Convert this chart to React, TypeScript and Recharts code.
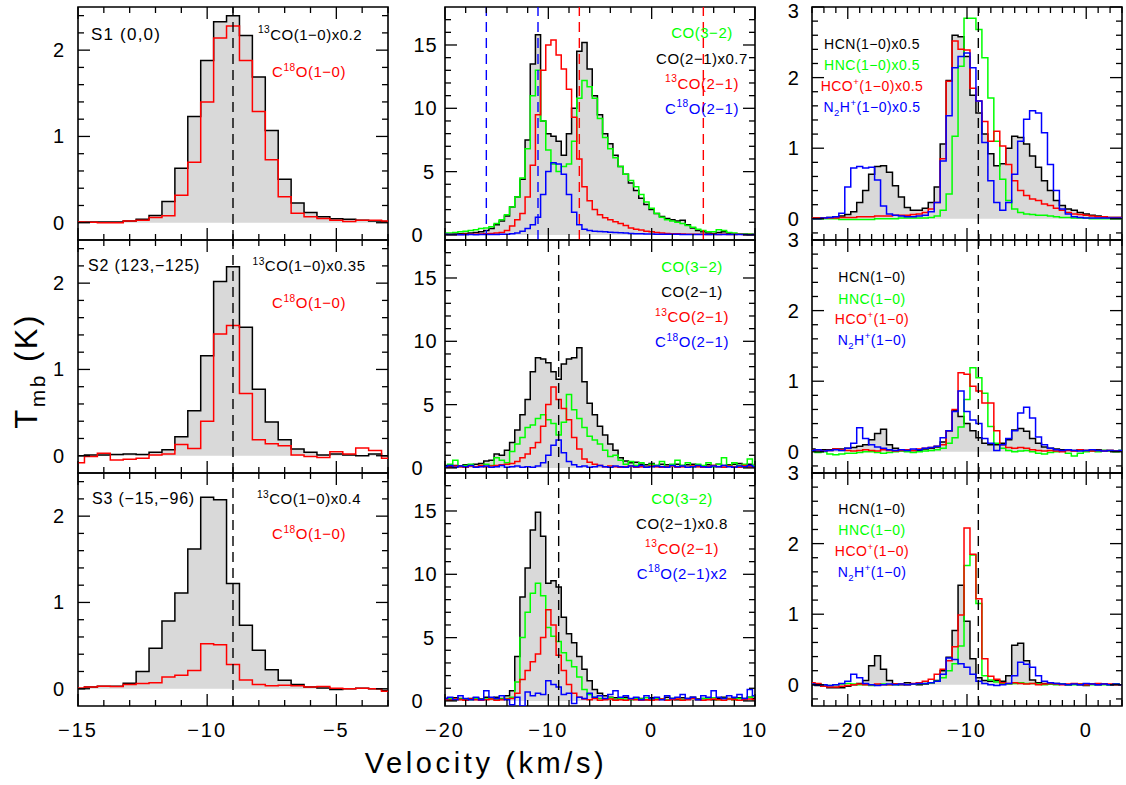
import React from 'react';
import { ComposedChart, Area, Line, XAxis, YAxis, ReferenceLine, ReferenceArea } from 'recharts';

const FONT = '"Liberation Sans", Arial, Helvetica, sans-serif';
const GREY = '#d9d9d9';
const BLACK = '#000000';
const RED = '#ff0000';
const GREEN = '#00ff00';
const BLUE = '#0000ff';

// plot box size and padding around it (px)
const PW = 310;
const PH = 233;
const LP = 50;
const RP = 24;
const TP = 12;
const BP = 38;

// ---------- channel velocities (km/s) ----------
const VEL_C1 = [-15, -14.5, -14, -13.5, -13, -12.5, -12, -11.5, -11, -10.5, -10, -9.5, -9, -8.5, -8, -7.5, -7, -6.5, -6, -5.5, -5, -4.5, -4, -3.5, -3];
const VEL_C2 = [-20, -19.5, -19, -18.5, -18, -17.5, -17, -16.5, -16, -15.5, -15, -14.5, -14, -13.5, -13, -12.5, -12, -11.5, -11, -10.5,
  -10, -9.5, -9, -8.5, -8, -7.5, -7, -6.5, -6, -5.5, -5, -4.5, -4, -3.5, -3, -2.5, -2, -1.5, -1, -0.5,
  0, 0.5, 1, 1.5, 2, 2.5, 3, 3.5, 4, 4.5, 5, 5.5, 6, 6.5, 7, 7.5, 8, 8.5, 9, 9.5, 10];
const VEL_C3 = [-23, -22.5, -22, -21.5, -21, -20.5, -20, -19.5, -19, -18.5, -18, -17.5, -17, -16.5, -16, -15.5, -15, -14.5, -14, -13.5,
  -13, -12.5, -12, -11.5, -11, -10.5, -10, -9.5, -9, -8.5, -8, -7.5, -7, -6.5, -6, -5.5, -5, -4.5, -4, -3.5,
  -3, -2.5, -2, -1.5, -1, -0.5, 0, 0.5, 1, 1.5, 2, 2.5, 3];

// ---------- column 1: 13CO(1-0) / C18O(1-0) ----------
const R1_13CO10 = [0.01, 0.01, 0.01, 0.01, 0.02, 0.04, 0.085, 0.245, 0.63, 1.23,
  1.88, 2.33, 2.40, 2.17, 1.69, 1.07, 0.505, 0.23, 0.12, 0.07,
  0.047, 0.04, 0.03, 0.02, 0.015];
const R1_C18O10 = [0.01, 0.005, 0, 0, 0.02, 0.03, 0.06, 0.08, 0.32, 0.70,
  1.40, 2.14, 2.28, 1.88, 1.29, 0.73, 0.30, 0.11, 0.07, 0.05,
  0.03, 0.015, 0.03, 0.03, 0.02];
const R2_13CO10 = [0, 0.01, 0.01, 0.015, 0.02, 0.015, 0.04, 0.07, 0.22, 0.52,
  1.16, 2.02, 2.19, 1.49, 0.77, 0.39, 0.185, 0.077, 0.04, 0.01,
  0.02, 0.01, 0, 0.02, 0];
const R2_C18O10 = [-0.08, -0.01, 0.03, -0.05, -0.04, -0.03, 0.01, 0.02, 0.13, 0.085,
  0.40, 1.41, 1.51, 0.72, 0.185, 0.14, 0.115, 0.01, -0.01, -0.02,
  0.046, 0.02, 0.09, 0.06, -0.03];
const R3_13CO10 = [0, 0.02, 0.03, 0.03, 0.065, 0.20, 0.47, 0.785, 1.11, 1.62,
  2.22, 2.19, 1.22, 0.735, 0.445, 0.22, 0.097, 0.05, 0.02, 0.01,
  -0.01, 0, 0.005, 0, -0.02];
const R3_C18O10 = [0.01, 0.02, 0.03, 0.025, 0.05, 0.06, 0.07, 0.135, 0.155, 0.21,
  0.52, 0.51, 0.28, 0.10, 0.05, 0.035, 0.04, 0.035, 0.02, 0.027,
  0.005, 0, 0.005, 0, -0.03];

// ---------- column 2: CO(3-2), CO(2-1), 13CO(2-1), C18O(2-1) ----------
const R1_CO32 = [0.15, 0.15, 0.2, 0.25, 0.3, 0.35, 0.4, 0.5, 0.55, 0.65,
  0.9, 1.2, 1.6, 2.2, 3.0, 4.5, 6.8, 11.0, 13.0, 9.0,
  6.7, 5.6, 5.0, 5.4, 5.6, 7.4, 10.8, 12.2, 11.7, 10.8,
  9.2, 7.7, 6.8, 6.1, 5.4, 4.8, 4.3, 3.8, 3.2, 2.6,
  2.1, 1.7, 1.4, 1.2, 1.1, 1.0, 0.9, 0.75, 0.6, 0.45,
  0.35, 0.25, 0.25, 0.4, 0.35, 0.2, 0.15, 0.1, 0.1, 0.08,
  0.05];
const R1_CO21 = [0.05, 0.05, 0.08, 0.1, 0.12, 0.15, 0.2, 0.25, 0.35, 0.5,
  0.8, 1.1, 1.5, 2.2, 3.0, 4.4, 7.5, 13.5, 15.8, 9.0,
  8.0, 7.8, 7.4, 6.3, 8.0, 10.0, 14.5, 15.2, 13.1, 11.0,
  9.5, 8.0, 7.2, 6.3, 5.4, 4.8, 4.1, 3.5, 2.9, 2.4,
  2.0, 1.7, 1.45, 1.3, 1.2, 1.1, 1.15, 0.8, 0.55, 0.35,
  0.25, 0.15, 0.12, 0.2, 0.25, 0.12, 0.08, 0.05, 0.05, 0.04,
  0.04];
const R1_13CO21 = [0.03, 0.03, 0.04, 0.03, 0.05, 0.05, 0.05, 0.08, 0.1, 0.12,
  0.15, 0.2, 0.35, 0.7, 1.2, 1.7, 3.0, 5.5, 9.5, 13.0,
  15.0, 15.4, 14.2, 13.1, 11.5, 9.3, 6.0, 3.8, 2.7, 2.0,
  1.6, 1.35, 1.2, 1.05, 0.9, 0.75, 0.55, 0.45, 0.38, 0.3,
  0.25, 0.2, 0.15, 0.12, 0.1, 0.1, 0.08, 0.06, 0.05, 0.05,
  0.05, 0.04, 0.05, 0.04, 0.05, 0.04, 0.04, 0.05, 0.04, 0.04,
  0.04];
const R1_C18O21 = [0.05, 0.04, 0.03, 0.02, 0.02, 0.03, 0.02, 0.03, 0.03, 0.04,
  0.04, 0.05, 0.06, 0.1, 0.15, 0.3, 0.5, 0.8, 1.4, 3.2,
  5.0, 5.7, 5.6, 4.8, 3.2, 1.8, 0.8, 0.45, 0.35, 0.3,
  0.28, 0.25, 0.22, 0.2, 0.18, 0.15, 0.12, 0.1, 0.1, 0.08,
  0.07, 0.06, 0.06, 0.05, 0.05, 0.05, 0.04, 0.04, 0.04, 0.03,
  0.03, 0.03, 0.03, 0.04, 0.03, 0.03, 0.03, 0.03, 0.03, 0.02,
  0.03];

const R2_CO32 = [0.1, 0.3, 0.6, 0.1, 0.2, 0.3, 0.1, 0.2, 0.3, 0.2,
  0.8, 0.6, 0.4, 1.3, 1.9, 2.4, 3.2, 3.4, 3.9, 4.2,
  3.8, 3.5, 2.6, 3.6, 5.8, 4.6, 3.9, 3.2, 2.5, 2.2,
  1.9, 1.4, 0.9, 1.0, 0.6, 0.3, 0.5, 0.2, 0.4, 0.1,
  0.3, 0.2, 0.5, 0.1, 0.3, 0.6, 0.2, 0.4, 0.1, 0.3,
  0.2, 0.4, 0.1, 0.3, 0.8, 0.2, 0.4, 0.2, 0.3, 0.7,
  0.2];
const R2_CO21 = [0.2, 0.1, 0.2, 0.15, 0.25, 0.2, 0.3, 0.35, 0.55, 0.6,
  1.1, 1.0, 1.4, 2.0, 3.0, 4.2, 5.4, 7.6, 8.7, 8.6,
  8.3, 7.6, 7.0, 8.2, 8.6, 8.7, 9.5, 6.8, 5.1, 4.2,
  3.3, 2.6, 1.9, 1.4, 0.8, 0.55, 0.4, 0.45, 0.3, 0.25,
  0.35, 0.2, 0.3, 0.25, 0.2, 0.3, 0.2, 0.25, 0.3, 0.2,
  0.15, 0.25, 0.2, 0.3, 0.2, 0.25, 0.3, 0.35, 0.25, 0.3,
  0.2];
const R2_13CO21 = [0.1, 0.05, 0.15, 0.1, 0.05, 0.15, 0.1, 0.2, 0.1, 0.15,
  0.2, 0.25, 0.3, 0.35, 0.5, 0.8, 1.1, 1.6, 2.0, 3.3,
  5.0, 6.4, 5.4, 4.7, 3.8, 2.4, 1.5, 0.7, 0.45, 0.3,
  0.2, 0.1, 0.15, 0.1, 0.05, 0.1, 0.15, 0.05, 0.1, 0.05,
  0.15, 0.1, 0.05, 0.1, 0.15, 0.05, 0.1, 0.05, 0.15, 0.1,
  0.05, 0.1, 0.2, 0.1, 0.05, 0.15, 0.1, 0.05, 0.2, 0.1,
  0.1];
const R2_C18O21 = [0.1, 0.2, 0.05, 0.15, 0.1, 0.2, 0.05, 0.1, 0.15, 0.05,
  0.1, 0.2, 0.05, 0.1, 0.15, 0.05, 0.1, 0.05, 0.15, 0.4,
  1.0, 1.8, 2.2, 1.2, 0.5, 0.25, 0.1, 0.15, 0.05, 0.1,
  0.2, 0.1, 0.05, 0.15, 0.1, 0.05, 0.15, 0.1, 0.2, 0.05,
  0.1, 0.15, 0.1, 0.05, 0.2, 0.1, 0.15, 0.05, 0.1, 0.2,
  0.1, 0.05, 0.15, 0.1, 0.2, 0.1, 0.05, 0.15, 0.1, 0.2,
  0.1];

const R3_CO32 = [0.1, 0.2, 0.1, 0.15, 0.05, 0.1, 0.2, 0.1, 0.15, 0.2,
  0.1, 0.15, 0.2, 0.3, 1.5, 5.0, 7.0, 8.5, 9.3, 8.3,
  5.8, 5.1, 4.7, 3.8, 3.2, 2.7, 1.9, 0.9, 0.5, 0.3,
  0.2, 0.15, 0.25, 0.1, 0.2, 0.15, 0.1, 0.2, 0.15, 0.25,
  0.1, 0.2, 0.15, 0.1, 0.2, 0.25, 0.1, 0.15, 0.2, 0.1,
  0.2, 0.15, 0.25, 0.1, 0.2, 0.15, 0.1, 0.2, 0.15, 0.3,
  0.4];
const R3_CO21 = [0.2, 0.15, 0.25, 0.2, 0.1, 0.2, 0.25, 0.15, 0.3, 0.2,
  0.3, 0.2, 0.4, 0.8, 3.5, 8.2, 10.5, 13.5, 14.9, 13.0,
  9.3, 9.5, 9.0, 6.6, 5.3, 4.6, 3.5, 2.5, 1.6, 0.9,
  0.6, 0.4, 0.3, 0.25, 0.2, 0.3, 0.15, 0.25, 0.2, 0.1,
  0.25, 0.2, 0.15, 0.3, 0.2, 0.1, 0.25, 0.2, 0.3, 0.15,
  0.2, 0.25, 0.1, 0.2, 0.3, 0.2, 0.15, 0.25, 0.2, 0.3,
  0.2];
const R3_13CO21 = [0.1, 0.05, 0.15, 0.1, 0.05, 0.15, 0.1, 0.05, 0.1, 0.15,
  0.05, 0.1, 0.15, 0.2, 0.6, 1.7, 2.4, 3.1, 3.7, 5.0,
  7.2, 6.0, 3.6, 2.4, 1.3, 0.6, 0.3, 0.15, 0.1, 0.2,
  0.05, 0.1, 0.15, 0.05, 0.1, 0.05, 0.15, 0.1, 0.05, 0.1,
  0.05, 0.1, 0.15, 0.05, 0.1, 0.15, 0.05, 0.1, 0.2, 0.1,
  0.05, 0.1, 0.15, 0.1, 0.05, 0.15, 0.1, 0.05, 0.1, 0.15,
  0.1];
const R3_C18O21 = [0.2, 0.3, 0.1, 0.4, 0.2, 0.1, 0.3, 0.1, 0.8, 0.3,
  0.2, 0.4, 0.1, -0.3, 0.3, -0.4, 0.7, 0.4, 0.6, 0.5,
  1.6, 1.3, 1.1, 0.5, 0.6, -0.2, 0.3, 0.2, 0.6, 0.3,
  0.4, 0.2, 0.5, 0.8, 0.3, 0.4, 0.2, 0.3, 0.1, 0.4,
  0.2, 0.3, 0.1, 0.4, 0.2, 0.3, 0.5, 0.2, 0.3, 0.1,
  0.4, 0.3, 0.8, 0.3, 0.2, 0.4, 0.3, 0.5, 0.2, 0.9,
  0.4];

// ---------- column 3: HCN, HNC, HCO+, N2H+ (1-0) ----------
const R1_HCN = [0.01, 0.01, 0.01, 0.02, 0.03, 0.04, 0.06, 0.1, 0.23, 0.4,
  0.63, 0.74, 0.75, 0.66, 0.47, 0.31, 0.16, 0.12, 0.12, 0.15,
  0.23, 0.45, 1.06, 1.96, 2.6, 2.58, 2.3, 1.75, 1.5, 1.2,
  0.92, 0.75, 0.78, 1.0, 1.17, 1.15, 1.06, 0.89, 0.73, 0.54,
  0.4, 0.26, 0.19, 0.14, 0.12, 0.09, 0.07, 0.05, 0.04, 0.03,
  0.02, 0.02, 0.02];
const R1_HNC = [0, 0, 0, 0, 0, -0.01, -0.01, -0.01, -0.01, -0.01,
  -0.01, 0, 0, 0, 0, 0.01, 0.01, 0.01, 0.01, 0.01,
  0.02, 0.04, 0.12, 0.35, 1.17, 2.16, 2.84, 2.84, 2.68, 2.28,
  1.71, 1.1, 0.56, 0.26, 0.14, 0.09, 0.07, 0.06, 0.05, 0.05,
  0.04, 0.03, 0.02, 0.02, 0.01, 0.01, 0.01, 0, 0, 0,
  0, 0, 0];
const R1_HCOP = [0.01, 0.01, 0.01, 0.01, 0.01, 0.02, 0.02, 0.02, 0.03, 0.03,
  0.03, 0.04, 0.04, 0.04, 0.05, 0.05, 0.05, 0.06, 0.07, 0.09,
  0.14, 0.23, 0.85, 1.95, 2.52, 2.4, 2.39, 1.85, 1.67, 1.38,
  1.1, 1.24, 1.03, 0.77, 0.54, 0.4, 0.33, 0.28, 0.26, 0.21,
  0.19, 0.15, 0.12, 0.09, 0.07, 0.06, 0.05, 0.04, 0.03, 0.03,
  0.02, 0.02, 0.02];
const R1_N2HP = [0, 0, 0.01, 0.02, 0.03, 0.08, 0.45, 0.72, 0.74, 0.72,
  0.73, 0.55, 0.18, 0.07, 0.05, 0.04, 0.03, 0.03, 0.04, 0.05,
  0.1, 0.23, 0.82, 1.46, 2.14, 2.3, 2.35, 2.14, 1.67, 1.08,
  0.54, 0.23, 0.12, 0.23, 0.63, 1.1, 1.41, 1.53, 1.5, 1.22,
  0.77, 0.4, 0.14, 0.07, 0.03, 0.02, 0.01, 0.01, 0.01, 0.01,
  0.01, 0.01, 0.01];

const R2_HCN = [0.04, 0.03, 0.03, 0.03, 0.04, 0.04, 0.05, 0.06, 0.08, 0.1,
  0.17, 0.26, 0.32, 0.1, 0.05, 0.02, 0.01, 0.02, 0.02, 0.04,
  0.05, 0.07, 0.14, 0.3, 0.58, 0.5, 0.4, 0.3, 0.2, 0.12,
  0.1, 0.1, 0.12, 0.17, 0.31, 0.33, 0.29, 0.19, 0.12, 0.07,
  0.05, 0.04, 0.03, 0.03, 0.02, 0.03, 0.02, 0.02, 0.03, 0.02,
  0.02, 0.01, 0.02];
const R2_HNC = [0.01, -0.01, 0, -0.03, -0.04, -0.03, -0.02, -0.02, -0.01, 0,
  0, -0.01, -0.02, -0.01, 0, 0.01, 0, -0.01, 0, 0.01,
  0.02, 0.03, 0.05, 0.12, 0.2, 0.35, 0.74, 1.19, 1.05, 0.83,
  0.36, 0.12, 0.05, 0.02, 0, 0.01, 0.02, 0, -0.02, -0.03,
  -0.01, 0, 0.01, -0.02, -0.06, -0.02, 0, 0.01, 0, 0.02,
  0.01, 0, 0.02];
const R2_HCOP = [0.02, 0.03, 0.01, 0.02, 0.04, 0.03, 0.02, 0.01, 0.02, 0.03,
  0.02, 0.01, 0.03, 0.02, 0.01, 0.02, 0.03, 0.02, 0.04, 0.05,
  0.06, 0.08, 0.1, 0.3, 0.6, 1.12, 1.1, 0.93, 0.86, 0.69,
  0.69, 0.3, 0.1, 0.06, 0.05, 0.06, 0.05, 0.03, 0.02, 0.01,
  0.02, 0.01, 0, 0.02, 0.01, 0.03, 0.02, 0.01, 0.02, 0.01,
  0.02, 0.01, 0.01];
const R2_N2HP = [0.02, 0.03, 0.01, 0.02, 0.03, 0.02, 0.05, 0.12, 0.34, 0.19,
  0.1, 0.07, 0.05, 0.03, 0.02, 0.03, 0.02, 0.04, 0.03, 0.05,
  0.06, 0.08, 0.2, 0.3, 0.57, 0.86, 0.57, 0.45, 0.4, 0.19,
  0.12, 0.02, 0.1, 0.19, 0.3, 0.55, 0.63, 0.48, 0.21, 0.1,
  0.05, 0.03, 0.02, 0.03, 0.02, 0.01, 0.02, 0.03, 0.02, 0.01,
  0.02, 0.01, 0.02];

const R3_HCN = [0, -0.01, -0.02, -0.04, -0.04, -0.04, -0.02, 0, 0.02, 0.06,
  0.27, 0.41, 0.22, 0.06, 0.01, 0, 0.03, 0.01, 0, 0.01,
  0.03, 0.06, 0.2, 0.39, 0.77, 1.41, 0.9, 0.37, 0.1, 0.06,
  0.05, 0.06, 0.05, 0.13, 0.56, 0.59, 0.34, 0.07, 0.03, 0.02,
  0.01, 0.02, 0.01, 0, 0.01, 0, -0.01, 0.01, 0, 0.01,
  0, 0.01, 0];
const R3_HNC = [0.02, 0.01, 0, -0.01, 0, 0.01, 0.02, 0.01, 0, 0,
  -0.01, 0, 0.01, 0, 0, 0.01, 0, 0.01, 0.02, 0.02,
  0.03, 0.05, 0.1, 0.2, 0.3, 0.55, 1.69, 1.84, 1.15, 0.13,
  0.07, 0.04, 0.02, 0.01, 0.02, 0.03, 0.02, 0.02, 0.01, 0,
  0.01, 0, 0.01, 0, 0, 0.01, 0, 0, 0.01, 0,
  0, 0.01, 0];
const R3_HCOP = [0.03, 0.02, -0.02, -0.03, -0.03, -0.02, -0.01, 0, 0.01, 0,
  0, 0.01, 0, 0, 0.01, 0.01, 0, 0.02, 0.03, 0.05,
  0.08, 0.15, 0.22, 0.34, 0.54, 0.99, 2.22, 1.85, 1.22, 0.37,
  0.12, 0.08, 0.03, 0.02, 0.03, 0.02, 0.01, 0.02, 0, 0.01,
  0.02, 0.01, 0, 0.01, 0.02, 0.01, 0, 0.01, 0.02, 0.01,
  0.01, 0, 0];
const R3_N2HP = [0.01, 0, 0, -0.01, 0, 0.02, 0.05, 0.15, 0.1, 0.02,
  0, -0.01, 0, 0.01, 0, 0.01, 0, 0.01, 0.02, 0.02,
  0.03, 0.05, 0.15, 0.38, 0.36, 0.3, 0.25, 0.15, 0.05, 0.02,
  0, -0.01, 0, 0.02, 0.13, 0.32, 0.29, 0.25, 0.13, 0.05,
  0.03, 0.02, 0.01, 0, 0.01, 0, 0.02, 0.01, 0, 0.01,
  0, 0.01, 0];

// ---------- ticks ----------
const X1_TICKS = [-15, -14, -13, -12, -11, -10, -9, -8, -7, -6, -5, -4, -3];
const X1_LABELS = [-15, -10, -5];
const Y1_TICKS = [0, 0.2, 0.4, 0.6, 0.8, 1, 1.2, 1.4, 1.6, 1.8, 2, 2.2, 2.4];
const Y1_LABELS = [0, 1, 2];
const X2_TICKS = [-20, -18, -16, -14, -12, -10, -8, -6, -4, -2, 0, 2, 4, 6, 8, 10];
const X2_LABELS = [-20, -10, 0, 10];
const Y2_TICKS = [0, 1, 2, 3, 4, 5, 6, 7, 8, 9, 10, 11, 12, 13, 14, 15, 16, 17];
const Y2_LABELS = [0, 5, 10, 15];
const X3_TICKS = [-23, -22, -21, -20, -19, -18, -17, -16, -15, -14, -13, -12, -11, -10, -9, -8, -7, -6, -5, -4, -3, -2, -1, 0, 1, 2, 3];
const X3_LABELS = [-20, -10, 0];
const Y3_TICKS = [-0.2, 0, 0.2, 0.4, 0.6, 0.8, 1, 1.2, 1.4, 1.6, 1.8, 2, 2.2, 2.4, 2.6, 2.8, 3];
const Y3_LABELS = [0, 1, 2, 3];

const near = (list: number[], v: number) => list.some((m) => Math.abs(m - v) < 1e-6);
const fmt = (v: number) => (v < 0 ? '\u2212' + Math.abs(v) : String(v));

type Trace = { key: string; values: number[]; color: string };

interface PanelProps {
  left: number;
  top: number;
  vel: number[];
  traces: Trace[];
  fill: string;
  xDomain: [number, number];
  yDomain: [number, number];
  xTicks: number[];
  xLabels: number[];
  yTicks: number[];
  yLabels: number[];
  showX: boolean;
  yLabelX: (v: number) => number;
  vlines: { x: number; color: string }[];
}

function Panel(props: PanelProps) {
  const { left, top, vel, traces, fill, xDomain, yDomain, xTicks, xLabels, yTicks, yLabels, showX, yLabelX, vlines } = props;
  const rows = vel.map((v, i) => {
    const r: Record<string, number> = { v };
    traces.forEach((t) => {
      r[t.key] = t.values[i];
    });
    return r;
  });

  const xTick = (p: any) => {
    const x = p.x;
    const val = p.payload.value;
    const major = near(xLabels, val);
    const len = major ? 12 : 6;
    return (
      <g>
        <line x1={x} x2={x} y1={TP + PH} y2={TP + PH - len} stroke={BLACK} strokeWidth={1.3} />
        <line x1={x} x2={x} y1={TP} y2={TP + len} stroke={BLACK} strokeWidth={1.3} />
        {showX && major ? (
          <text x={x} y={TP + PH + 31} textAnchor="middle" fontSize={20} letterSpacing={2} fontFamily={FONT} fill={BLACK}>
            {fmt(val)}
          </text>
        ) : null}
      </g>
    );
  };

  const yTick = (p: any) => {
    const y = p.y;
    const val = p.payload.value;
    const major = near(yLabels, val);
    const len = major ? 12 : 6;
    // a label on the very top edge of the page is nudged down so it stays inside
    const ty = Math.max(y + 7, top < 20 ? 23 : 0);
    return (
      <g>
        <line x1={LP} x2={LP + len} y1={y} y2={y} stroke={BLACK} strokeWidth={1.3} />
        <line x1={LP + PW} x2={LP + PW - len} y1={y} y2={y} stroke={BLACK} strokeWidth={1.3} />
        {major ? (
          <text x={LP + yLabelX(val)} y={ty} textAnchor="middle" fontSize={20} letterSpacing={1} fontFamily={FONT} fill={BLACK}>
            {fmt(val)}
          </text>
        ) : null}
      </g>
    );
  };

  return (
    <div style={{ position: 'absolute', left: left - LP, top: top - TP }}>
      <ComposedChart width={LP + PW + RP} height={TP + PH + BP} data={rows} margin={{ top: TP, right: RP, bottom: 0, left: 0 }}>
        <XAxis dataKey="v" type="number" domain={xDomain} allowDataOverflow ticks={xTicks} interval={0} tick={xTick}
          tickLine={false} axisLine={false} tickSize={0} tickMargin={0} height={BP} />
        <YAxis type="number" domain={yDomain} allowDataOverflow ticks={yTicks} interval={0} tick={yTick}
          tickLine={false} axisLine={false} tickSize={0} tickMargin={0} width={LP} />
        <Area type="step" dataKey={fill} stroke="none" fill={GREY} fillOpacity={1} baseValue={0}
          dot={false} activeDot={false} isAnimationActive={false} />
        {traces.map((t) => (
          <Line key={t.key} type="step" dataKey={t.key} stroke={t.color} strokeWidth={1.5}
            dot={false} activeDot={false} isAnimationActive={false} />
        ))}
        {vlines.map((l, i) => (
          <ReferenceLine key={i} x={l.x} stroke={l.color} strokeWidth={1.4} strokeDasharray="10 6" ifOverflow="visible" />
        ))}
        <ReferenceArea x1={xDomain[0]} x2={xDomain[1]} y1={yDomain[0]} y2={yDomain[1]} fill="none" fillOpacity={0}
          stroke={BLACK} strokeWidth={1.6} ifOverflow="visible" />
      </ComposedChart>
    </div>
  );
}

type Part = [string, number];

function Label({ x, y, parts, color = BLACK, size = 15, anchor = 'middle', spacing = 0.5 }:
  { x: number; y: number; parts: Part[]; color?: string; size?: number; anchor?: string; spacing?: number }) {
  let cur = 0;
  return (
    <text x={x} y={y} fill={color} fontSize={size} fontFamily={FONT} textAnchor={anchor as any} letterSpacing={spacing}>
      {parts.map(([s, lvl], i) => {
        const target = lvl < 0 ? -size * 0.42 : lvl > 0 ? size * 0.3 : 0;
        const dy = target - cur;
        cur = target;
        return (
          <tspan key={i} dy={dy} fontSize={lvl !== 0 ? size * 0.68 : size}>
            {s}
          </tspan>
        );
      })}
    </text>
  );
}

const COL_X = [77.5, 445, 812.3];
const ROW_Y = [7, 240, 473];

const col1Y = () => -19;
const col2Y = (v: number) => (v === 0 ? -27.5 : v === 5 ? -16 : -19.5);
const col3Y = () => -18.3;

export default function App() {
  const c1 = (row: number, a: number[], b: number[]) => (
    <Panel key={'c1' + row} left={COL_X[0]} top={ROW_Y[row]} vel={VEL_C1} fill="a"
      traces={[{ key: 'a', values: a, color: BLACK }, { key: 'b', values: b, color: RED }]}
      xDomain={[-15, -3]} yDomain={[-0.2, 2.5]} xTicks={X1_TICKS} xLabels={X1_LABELS}
      yTicks={Y1_TICKS} yLabels={Y1_LABELS} showX={row === 2} yLabelX={col1Y}
      vlines={[{ x: -9, color: BLACK }]} />
  );
  const c2 = (row: number, g: number[], k: number[], r: number[], b: number[], vl: { x: number; color: string }[]) => (
    <Panel key={'c2' + row} left={COL_X[1]} top={ROW_Y[row]} vel={VEL_C2} fill="k"
      traces={[{ key: 'k', values: k, color: BLACK }, { key: 'g', values: g, color: GREEN },
        { key: 'r', values: r, color: RED }, { key: 'b', values: b, color: BLUE }]}
      xDomain={[-20, 10]} yDomain={[-0.4, 18]} xTicks={X2_TICKS} xLabels={X2_LABELS}
      yTicks={Y2_TICKS} yLabels={Y2_LABELS} showX={row === 2} yLabelX={col2Y} vlines={vl} />
  );
  const c3 = (row: number, k: number[], g: number[], r: number[], b: number[]) => (
    <Panel key={'c3' + row} left={COL_X[2]} top={ROW_Y[row]} vel={VEL_C3} fill="k"
      traces={[{ key: 'k', values: k, color: BLACK }, { key: 'g', values: g, color: GREEN },
        { key: 'r', values: r, color: RED }, { key: 'b', values: b, color: BLUE }]}
      xDomain={[-23, 3]} yDomain={[-0.3, 3]} xTicks={X3_TICKS} xLabels={X3_LABELS}
      yTicks={Y3_TICKS} yLabels={Y3_LABELS} showX={row === 2} yLabelX={col3Y}
      vlines={[{ x: -9.05, color: BLACK }]} />
  );

  const co = (mult: string): Part[] => [['13', -1], ['CO(1\u22120)' + mult, 0]];
  const c18 = (t: string): Part[] => [['C', 0], ['18', -1], ['O' + t, 0]];
  const i13 = (t: string): Part[] => [['13', -1], ['CO' + t, 0]];
  const hco = (m: string): Part[] => [['HCO', 0], ['+', -1], ['(1\u22120)' + m, 0]];
  const n2h = (m: string): Part[] => [['N', 0], ['2', 1], ['H', 0], ['+', -1], ['(1\u22120)' + m, 0]];

  return (
    <div style={{ position: 'absolute', left: 0, top: 0, width: 1126, height: 785, background: '#fff', fontFamily: FONT }}>
      {c1(0, R1_13CO10, R1_C18O10)}
      {c1(1, R2_13CO10, R2_C18O10)}
      {c1(2, R3_13CO10, R3_C18O10)}
      {c2(0, R1_CO32, R1_CO21, R1_13CO21, R1_C18O21, [
        { x: -16, color: BLUE }, { x: -11, color: BLUE }, { x: -7, color: RED }, { x: 5, color: RED }])}
      {c2(1, R2_CO32, R2_CO21, R2_13CO21, R2_C18O21, [{ x: -9, color: BLACK }])}
      {c2(2, R3_CO32, R3_CO21, R3_13CO21, R3_C18O21, [{ x: -9, color: BLACK }])}
      {c3(0, R1_HCN, R1_HNC, R1_HCOP, R1_N2HP)}
      {c3(1, R2_HCN, R2_HNC, R2_HCOP, R2_N2HP)}
      {c3(2, R3_HCN, R3_HNC, R3_HCOP, R3_N2HP)}

      <svg width={1126} height={785} style={{ position: 'absolute', left: 0, top: 0, pointerEvents: 'none' }}>
        {/* column 1 */}
        <Label x={91} y={40} parts={[['S1 (0,0)', 0]]} size={17} anchor="start" spacing={1.2} />
        <Label x={310} y={39.5} parts={co('x0.2')} />
        <Label x={309} y={77} parts={c18('(1\u22120)')} color={RED} />
        <Label x={88} y={271} parts={[['S2 (123,\u2212125)', 0]]} size={16} anchor="start" spacing={0.8} />
        <Label x={309} y={271} parts={co('x0.35')} />
        <Label x={309} y={308} parts={c18('(1\u22120)')} color={RED} />
        <Label x={92} y={504} parts={[['S3 (\u221215,\u221296)', 0]]} size={16} anchor="start" spacing={0.8} />
        <Label x={309} y={504} parts={co('x0.4')} />
        <Label x={309} y={539} parts={c18('(1\u22120)')} color={RED} />

        {/* column 2 */}
        <Label x={702} y={38} parts={[['CO(3\u22122)', 0]]} color={GREEN} />
        <Label x={702} y={63.5} parts={[['CO(2\u22121)x0.7', 0]]} />
        <Label x={702} y={88.5} parts={i13('(2\u22121)')} color={RED} />
        <Label x={702} y={113.5} parts={c18('(2\u22121)')} color={BLUE} />
        <Label x={692} y={272} parts={[['CO(3\u22122)', 0]]} color={GREEN} />
        <Label x={692} y={297} parts={[['CO(2\u22121)', 0]]} />
        <Label x={692} y={322} parts={i13('(2\u22121)')} color={RED} />
        <Label x={692} y={347} parts={c18('(2\u22121)')} color={BLUE} />
        <Label x={682} y={503.5} parts={[['CO(3\u22122)', 0]]} color={GREEN} />
        <Label x={682} y={528.5} parts={[['CO(2\u22121)x0.8', 0]]} />
        <Label x={682} y={553.5} parts={i13('(2\u22121)')} color={RED} />
        <Label x={682} y={578.5} parts={c18('(2\u22121)x2')} color={BLUE} />

        {/* column 3 */}
        <Label x={872} y={48.5} parts={[['HCN(1\u22120)x0.5', 0]]} size={14} />
        <Label x={872} y={70} parts={[['HNC(1\u22120)x0.5', 0]]} color={GREEN} size={14} />
        <Label x={872} y={90.5} parts={hco('x0.5')} color={RED} size={14} />
        <Label x={872} y={111.5} parts={n2h('x0.5')} color={BLUE} size={14} />
        <Label x={872} y={282} parts={[['HCN(1\u22120)', 0]]} size={14} />
        <Label x={872} y={303.5} parts={[['HNC(1\u22120)', 0]]} color={GREEN} size={14} />
        <Label x={872} y={324} parts={hco('')} color={RED} size={14} />
        <Label x={872} y={345} parts={n2h('')} color={BLUE} size={14} />
        <Label x={872} y={513.5} parts={[['HCN(1\u22120)', 0]]} size={14} />
        <Label x={872} y={535} parts={[['HNC(1\u22120)', 0]]} color={GREEN} size={14} />
        <Label x={872} y={555.5} parts={hco('')} color={RED} size={14} />
        <Label x={872} y={576.5} parts={n2h('')} color={BLUE} size={14} />

        {/* axis titles */}
        <text transform="translate(36.5,371) rotate(-90)" textAnchor="middle" fontSize={31} fontFamily={FONT} letterSpacing={2.5} fill={BLACK}>
          T<tspan dy={8} fontSize={21}>mb</tspan><tspan dy={-8}> (K)</tspan>
        </text>
        <text x={486} y={773} textAnchor="middle" fontSize={29} fontFamily={FONT} letterSpacing={3.6} fill={BLACK}>
          Velocity (km/s)
        </text>
      </svg>
    </div>
  );
}
